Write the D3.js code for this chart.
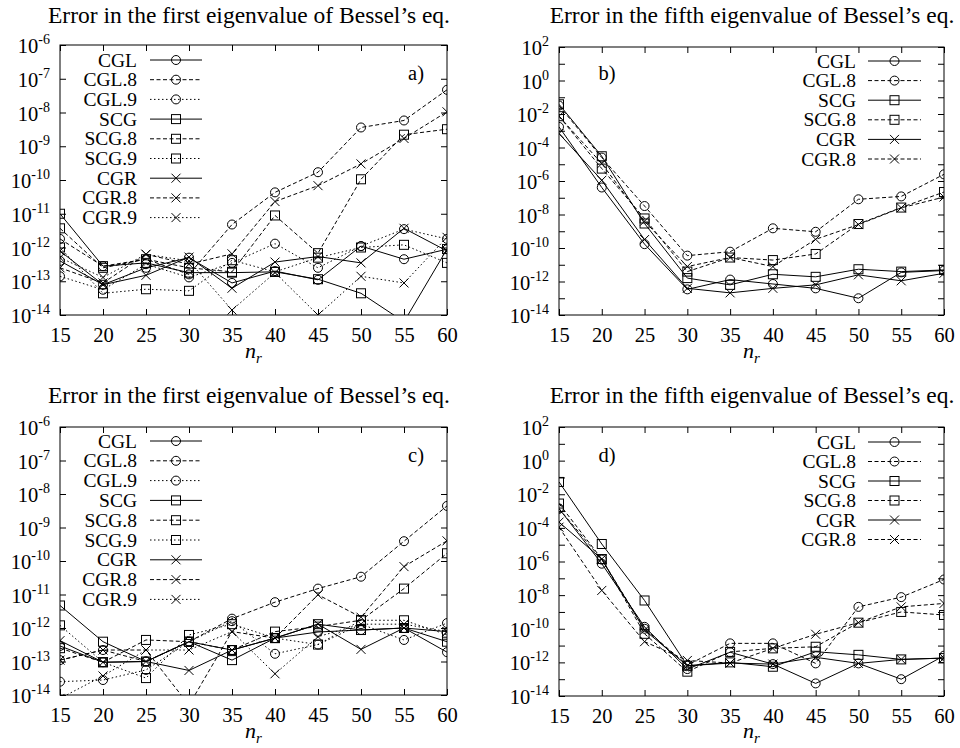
<!DOCTYPE html>
<html>
<head>
<meta charset="utf-8">
<script src="https://cdn.jsdelivr.net/npm/d3@7"></script>
<style>
  body { margin: 0; background: #fff; }
  svg text { font-family: "Liberation Serif", "Times New Roman", serif; fill: #000; }
</style>
</head>
<body>
<svg id="chart" width="960" height="748"></svg>
<script>
// n_r values on the x axis
const nr = [15, 20, 25, 30, 35, 40, 45, 50, 55, 60];

const namesFirst = ["CGL", "CGL.8", "CGL.9", "SCG", "SCG.8", "SCG.9", "CGR", "CGR.8", "CGR.9"];
const namesFifth = ["CGL", "CGL.8", "SCG", "SCG.8", "CGR", "CGR.8"];

// exponents shown as tick labels
const expFirst = [-6, -7, -8, -9, -10, -11, -12, -13, -14];
const expFifth = [2, 0, -2, -4, -6, -8, -10, -12, -14];

const titleFirst = "Error in the first eigenvalue of Bessel\u2019s eq.";
const titleFifth = "Error in the fifth eigenvalue of Bessel\u2019s eq.";

// panel a) — first eigenvalue, rows follow namesFirst
const errA = [
  [4.0e-13, 7.9e-14, 2.5e-13, 5.0e-13, 8.9e-14, 2.0e-13, 1.1e-13, 1.1e-12, 4.5e-13, 8.9e-13],
  [1.8e-12, 2.8e-13, 4.5e-13, 1.6e-13, 4.8e-12, 4.3e-11, 1.7e-10, 3.6e-9, 5.8e-9, 4.7e-8],
  [1.4e-13, 5.6e-14, 3.2e-13, 1.3e-13, 3.5e-13, 1.3e-12, 2.5e-13, 1.1e-12, 3.5e-12, 1.8e-12],
  [1.0e-11, 2.8e-13, 3.5e-13, 1.8e-13, 1.8e-13, 1.9e-13, 1.15e-13, 4.4e-14, 6.3e-15, 9.0e-13],
  [3.7e-12, 2.5e-13, 4.5e-13, 2.5e-13, 1.9e-13, 8.9e-12, 6.8e-13, 1.05e-10, 2.2e-9, 3.2e-9],
  [1.0e-12, 4.4e-14, 5.8e-14, 5.2e-14, 4.2e-13, 1.9e-13, 5.0e-13, 1.0e-12, 1.2e-12, 3.5e-13],
  [7.9e-13, 7.9e-14, 1.5e-13, 5.2e-13, 6.2e-14, 3.7e-13, 5.4e-13, 3.5e-13, 3.7e-12, 7.9e-13],
  [2.5e-13, 8.9e-14, 6.3e-13, 3.2e-13, 6.5e-13, 2.3e-11, 6.8e-11, 3.0e-10, 1.7e-9, 1.05e-8],
  [5.0e-13, 1.3e-13, 6.3e-13, 4.0e-13, 1.4e-14, 1.8e-13, 1.0e-14, 1.4e-13, 8.9e-14, 2.0e-12]
];

// panel b) — fifth eigenvalue, rows follow namesFifth
const errB = [
  [1.7e-3, 4.1e-7, 1.7e-10, 3.4e-13, 1.3e-12, 7.1e-13, 3.9e-13, 1.0e-13, 3.5e-12, 4.5e-12],
  [3.2e-2, 2.5e-5, 3.2e-8, 3.5e-11, 6.0e-11, 1.5e-9, 9.3e-10, 8.1e-8, 1.2e-7, 2.5e-6],
  [3.8e-2, 3.0e-5, 2.9e-9, 1.6e-12, 6.3e-13, 2.7e-12, 1.9e-12, 5.4e-12, 3.9e-12, 4.9e-12],
  [7.4e-3, 5.5e-6, 5.8e-9, 3.9e-12, 2.7e-11, 1.9e-11, 4.4e-11, 2.7e-9, 2.6e-8, 2.2e-7],
  [6.8e-4, 1.1e-6, 3.2e-10, 3.9e-13, 2.1e-13, 3.9e-13, 6.3e-13, 2.5e-12, 1.1e-12, 3.1e-12],
  [7.4e-3, 1.1e-5, 4.0e-9, 7.8e-12, 2.7e-11, 7.8e-12, 3.3e-10, 2.5e-9, 2.5e-8, 1.1e-7]
];

// panel c) — first eigenvalue
const errC = [
  [2.9e-13, 9.5e-14, 1.0e-13, 3.9e-13, 2.2e-13, 5.0e-13, 7.6e-13, 8.7e-13, 1.0e-12, 1.9e-13],
  [1.1e-13, 2.2e-13, 1.0e-13, 3.9e-13, 1.9e-12, 5.9e-12, 1.5e-11, 3.4e-11, 3.9e-10, 4.4e-9],
  [2.5e-14, 2.8e-14, 5.6e-14, 3.9e-13, 1.6e-12, 1.7e-13, 3.2e-13, 1.3e-12, 4.4e-13, 1.4e-12],
  [4.7e-12, 3.9e-13, 1.0e-13, 3.9e-13, 1.1e-13, 5.0e-13, 1.3e-12, 8.7e-13, 1.0e-12, 3.9e-13],
  [2.5e-13, 9.5e-14, 4.4e-13, 3.9e-13, 2.2e-13, 7.8e-13, 1.1e-12, 1.7e-12, 1.5e-11, 1.7e-10],
  [1.2e-12, 9.5e-14, 3.2e-14, 6.2e-13, 1.3e-12, 5.0e-13, 3.2e-13, 1.7e-12, 1.7e-12, 6.3e-13],
  [4.2e-13, 9.5e-14, 1.0e-13, 5.4e-14, 2.2e-13, 5.0e-13, 1.3e-12, 2.3e-13, 1.0e-12, 7.8e-13],
  [1.1e-13, 2.2e-13, 2.2e-13, 5.0e-15, 7.8e-13, 5.0e-13, 9.8e-12, 2.1e-12, 6.8e-11, 4.0e-10],
  [7.9e-15, 3.7e-14, 2.2e-13, 2.2e-13, 7.8e-13, 4.3e-14, 5.5e-13, 1.3e-12, 1.3e-12, 7.8e-13]
];

// panel d) — fifth eigenvalue
const errD = [
  [1.4e-3, 7.4e-7, 1.3e-10, 4.0e-13, 4.0e-12, 7.9e-13, 5.6e-14, 8.7e-13, 1.0e-13, 2.5e-12],
  [1.4e-3, 1.3e-6, 1.0e-10, 6.9e-13, 1.35e-11, 1.35e-11, 8.7e-13, 2.0e-9, 7.6e-9, 8.5e-8],
  [5.4e-2, 1.1e-5, 4.8e-9, 6.3e-13, 1.0e-12, 5.5e-13, 4.3e-12, 2.8e-12, 1.5e-12, 1.8e-12],
  [2.8e-3, 1.4e-6, 5.0e-11, 2.8e-13, 4.2e-12, 6.8e-12, 8.5e-12, 2.3e-10, 1.0e-9, 6.6e-10],
  [2.2e-4, 1.4e-6, 8.3e-11, 6.3e-13, 9.1e-13, 7.9e-13, 2.0e-12, 8.7e-13, 1.5e-12, 1.8e-12],
  [1.1e-4, 1.9e-8, 1.7e-11, 1.3e-12, 9.1e-13, 6.8e-12, 4.7e-11, 2.3e-10, 2.0e-9, 3.2e-9]
];

const svg = d3.select("#chart");
svg.append("rect").attr("width", 960).attr("height", 748).attr("fill", "#fff");

const panels = [
  { id: "a", names: namesFirst, err: errA, exps: expFirst, title: titleFirst,
    left: 60, right: 447, top: 45, bottom: 315, ymin: 1e-14, ymax: 1e-6,
    titleX: 249, titleY: 23, tagX: 416, tagY: 80,
    legText: 137, legL0: 150, legL1: 202, legY: 60, legDy: 19.7, xlabY: 342, nrY: 358 },
  { id: "b", names: namesFifth, err: errB, exps: expFifth, title: titleFifth,
    left: 559, right: 944, top: 47, bottom: 315, ymin: 1e-14, ymax: 1e2,
    titleX: 752, titleY: 23, tagX: 607, tagY: 80,
    legText: 856, legL0: 868, legL1: 921, legY: 61, legDy: 19.6, xlabY: 342, nrY: 358 },
  { id: "c", names: namesFirst, err: errC, exps: expFirst, title: titleFirst,
    left: 60, right: 447, top: 427, bottom: 695, ymin: 1e-14, ymax: 1e-6,
    titleX: 249, titleY: 403, tagX: 416, tagY: 462,
    legText: 137, legL0: 150, legL1: 202, legY: 441, legDy: 19.8, xlabY: 722, nrY: 738 },
  { id: "d", names: namesFifth, err: errD, exps: expFifth, title: titleFifth,
    left: 559, right: 944, top: 427, bottom: 696, ymin: 1e-14, ymax: 1e2,
    titleX: 752, titleY: 403, tagX: 607, tagY: 462,
    legText: 856, legL0: 868, legL1: 921, legY: 442, legDy: 19.5, xlabY: 722, nrY: 738 }
];

function dashFor(name) {
  if (name.endsWith(".8")) return "4,2.5";
  if (name.endsWith(".9")) return "1.5,2.5";
  return null;
}

function drawMarker(g, name, cx, cy) {
  const s = 4.5;
  if (name.startsWith("CGL")) {
    g.append("circle").attr("cx", cx).attr("cy", cy).attr("r", s)
      .attr("fill", "none").attr("stroke", "#000").attr("stroke-width", 1);
  } else if (name.startsWith("SCG")) {
    g.append("rect").attr("x", cx - s).attr("y", cy - s).attr("width", 2 * s).attr("height", 2 * s)
      .attr("fill", "none").attr("stroke", "#000").attr("stroke-width", 1);
  } else {
    g.append("path")
      .attr("d", `M${cx - s},${cy - s}L${cx + s},${cy + s}M${cx - s},${cy + s}L${cx + s},${cy - s}`)
      .attr("stroke", "#000").attr("stroke-width", 1).attr("fill", "none");
  }
}

panels.forEach(p => {
  const g = svg.append("g");
  const x = d3.scaleLinear().domain([15, 60]).range([p.left, p.right]);
  const y = d3.scaleLog().domain([p.ymin, p.ymax]).range([p.bottom, p.top]);
  const w = p.right - p.left, h = p.bottom - p.top;

  svg.append("clipPath").attr("id", "clip-" + p.id)
    .append("rect").attr("x", p.left).attr("y", p.top).attr("width", w).attr("height", h);

  // title
  g.append("text").attr("x", p.titleX).attr("y", p.titleY)
    .attr("text-anchor", "middle").style("font-size", "23.5px").text(p.title);

  // ticks: every decade, labels only on p.exps
  const lo = Math.log10(p.ymin), hi = Math.log10(p.ymax);
  const decades = d3.range(lo, hi + 1).map(e => Math.pow(10, e));

  g.append("g").attr("transform", `translate(${p.left},0)`)
    .call(d3.axisLeft(y).tickValues(decades).tickSize(-6).tickSizeOuter(0).tickFormat(""));
  g.append("g").attr("transform", `translate(${p.right},0)`)
    .call(d3.axisRight(y).tickValues(decades).tickSize(-6).tickSizeOuter(0).tickFormat(""));
  g.append("g").attr("transform", `translate(0,${p.bottom})`)
    .call(d3.axisBottom(x).tickValues(nr).tickSize(-6).tickSizeOuter(0).tickPadding(12))
    .call(a => a.selectAll("text").style("font-size", "20.5px")
      .style("font-family", "'Liberation Serif', serif"));
  g.append("g").attr("transform", `translate(0,${p.top})`)
    .call(d3.axisTop(x).tickValues(nr).tickSize(-6).tickSizeOuter(0).tickFormat(""));
  g.selectAll(".domain").remove();
  g.selectAll(".tick line").attr("stroke", "#000");

  // y labels: 10^e
  p.exps.forEach(e => {
    const t = g.append("text").attr("x", p.left - 10).attr("y", y(Math.pow(10, e)) + 8)
      .attr("text-anchor", "end").style("font-size", "20.5px");
    t.append("tspan").text("10");
    t.append("tspan").attr("dy", -9).style("font-size", "14px").text(String(e));
  });

  // frame
  g.append("rect").attr("x", p.left).attr("y", p.top).attr("width", w).attr("height", h)
    .attr("fill", "none").attr("stroke", "#000").attr("stroke-width", 1);

  // x axis title n_r
  const xt = g.append("text").attr("x", (p.left + p.right) / 2).attr("y", p.nrY)
    .attr("text-anchor", "middle").style("font-size", "22px").style("font-style", "italic");
  xt.append("tspan").text("n");
  xt.append("tspan").attr("dy", 5).style("font-size", "15px").text("r");

  // panel tag
  g.append("text").attr("x", p.tagX).attr("y", p.tagY).attr("text-anchor", "middle")
    .style("font-size", "20.5px").text(p.id + ")");

  // series
  const plot = g.append("g").attr("clip-path", `url(#clip-${p.id})`);
  const line = d3.line().x((d, i) => x(nr[i])).y(d => y(d));
  p.names.forEach((name, k) => {
    const vals = p.err[k];
    plot.append("path").datum(vals).attr("d", line)
      .attr("fill", "none").attr("stroke", "#000").attr("stroke-width", 1)
      .attr("stroke-dasharray", dashFor(name));
    vals.forEach((v, i) => drawMarker(plot, name, x(nr[i]), y(v)));

    // legend row
    const ly = p.legY + k * p.legDy;
    g.append("text").attr("x", p.legText).attr("y", ly + 6.5).attr("text-anchor", "end")
      .style("font-size", "19.5px").text(name);
    g.append("line").attr("x1", p.legL0).attr("x2", p.legL1).attr("y1", ly).attr("y2", ly)
      .attr("stroke", "#000").attr("stroke-width", 1).attr("stroke-dasharray", dashFor(name));
    drawMarker(g, name, (p.legL0 + p.legL1) / 2, ly);
  });
});
</script>
</body>
</html>
